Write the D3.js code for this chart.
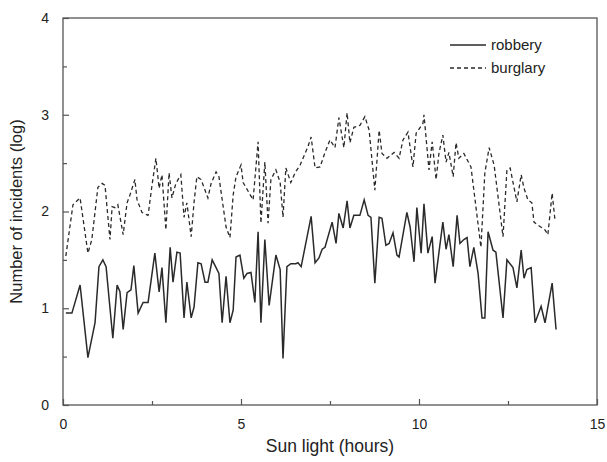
<!DOCTYPE html>
<html><head><meta charset="utf-8">
<script src="https://cdn.jsdelivr.net/npm/d3@7"></script>
<style>body{margin:0;background:#fff;} text{font-family:"Liberation Sans",Arial,sans-serif;fill:#222;}</style>
</head><body><svg id="c" width="607" height="462"></svg>
<script>
const robberyX = [0.08,0.25,0.48,0.70,0.90,1.01,1.12,1.21,1.40,1.52,1.60,1.69,1.80,1.91,1.99,2.11,2.25,2.39,2.58,2.70,2.78,2.89,3.01,3.09,3.20,3.29,3.40,3.48,3.60,3.68,3.79,3.88,3.99,4.07,4.19,4.30,4.38,4.47,4.58,4.69,4.78,4.86,4.97,5.08,5.17,5.28,5.39,5.48,5.56,5.67,5.79,5.98,6.10,6.18,6.29,6.40,6.54,6.60,6.69,6.97,7.08,7.19,7.28,7.36,7.56,7.67,7.75,7.87,7.98,8.06,8.17,8.34,8.46,8.57,8.65,8.76,8.88,8.96,9.07,9.16,9.27,9.38,9.44,9.66,9.75,9.86,9.94,10.06,10.14,10.25,10.37,10.45,10.67,10.76,10.84,10.96,11.07,11.15,11.26,11.35,11.43,11.54,11.66,11.77,11.85,11.94,12.08,12.16,12.36,12.47,12.64,12.75,12.87,12.95,13.03,13.15,13.26,13.43,13.54,13.74,13.85];
const robberyY = [0.95,0.95,1.24,0.49,0.85,1.43,1.50,1.43,0.69,1.24,1.17,0.78,1.16,1.19,1.44,0.95,1.06,1.06,1.57,1.17,1.42,0.85,1.63,1.27,1.58,1.57,0.90,1.27,0.90,1.01,1.47,1.46,1.27,1.27,1.50,1.42,1.36,0.85,1.33,0.85,0.98,1.53,1.55,1.31,1.36,1.37,1.06,1.79,0.85,1.71,1.03,1.55,1.40,0.48,1.43,1.46,1.46,1.47,1.43,1.95,1.47,1.52,1.61,1.63,1.89,1.67,1.98,1.83,2.11,1.83,1.96,1.96,2.12,1.96,1.94,1.26,1.94,1.93,1.65,1.67,1.78,1.55,1.53,1.99,1.84,1.48,2.04,1.57,2.08,1.57,1.74,1.26,1.89,1.61,1.76,1.43,1.96,1.67,1.71,1.73,1.43,1.63,1.36,0.90,0.90,1.79,1.60,1.58,0.90,1.50,1.42,1.21,1.60,1.31,1.40,1.42,0.85,1.02,0.85,1.26,0.78];
const burglaryX = [0.08,0.28,0.48,0.70,0.81,0.98,1.10,1.18,1.32,1.38,1.46,1.54,1.69,1.80,1.88,2.02,2.08,2.22,2.39,2.50,2.61,2.70,2.78,2.89,2.98,3.06,3.17,3.31,3.40,3.48,3.60,3.68,3.76,3.88,4.07,4.16,4.30,4.38,4.58,4.69,4.78,4.86,5.00,5.06,5.34,5.48,5.56,5.67,5.76,5.84,5.98,6.10,6.18,6.26,6.40,6.52,6.66,6.88,6.97,7.08,7.22,7.36,7.50,7.64,7.75,7.89,7.98,8.06,8.17,8.34,8.48,8.60,8.76,8.88,8.96,9.10,9.30,9.44,9.55,9.69,9.83,9.92,10.11,10.14,10.28,10.37,10.48,10.56,10.67,10.76,10.84,10.96,11.04,11.12,11.26,11.46,11.74,11.85,11.97,12.11,12.36,12.47,12.56,12.75,12.87,12.95,13.06,13.17,13.23,13.34,13.54,13.62,13.74,13.82];
const burglaryY = [1.54,2.07,2.14,1.57,1.71,2.25,2.29,2.27,1.71,2.05,2.04,2.07,1.76,2.09,2.17,2.33,2.12,1.99,1.96,2.27,2.55,2.24,2.38,1.81,2.40,2.14,2.29,2.38,1.94,2.09,1.74,2.09,2.36,2.33,2.14,2.29,2.41,2.36,1.84,1.73,2.17,2.36,2.48,2.30,2.12,2.72,1.88,2.51,1.88,2.33,2.43,2.30,1.94,2.45,2.30,2.40,2.48,2.67,2.77,2.45,2.46,2.61,2.74,2.66,2.97,2.66,3.02,2.71,2.87,2.89,2.98,2.84,2.22,2.84,2.60,2.55,2.61,2.55,2.74,2.82,2.46,2.81,2.91,3.00,2.43,2.72,2.33,2.60,2.79,2.51,2.61,2.36,2.71,2.55,2.60,2.46,1.63,2.40,2.66,2.48,1.74,2.43,2.45,2.10,2.38,2.24,2.12,2.09,1.89,1.86,1.81,1.76,2.19,1.91];
const xTicks = [0,5,10,15];
const yTicks = [0,1,2,3,4];
const seriesNames = ["robbery","burglary"];

const svg = d3.select("#c");
const L=63, R=597, T=18, B=405;
const x = d3.scaleLinear().domain([0,15]).range([L,R]);
const y = d3.scaleLinear().domain([0,4]).range([B,T]);
const ink = "#2a2a2a", frame="#555";

svg.append("rect").attr("x",L).attr("y",T).attr("width",R-L).attr("height",B-T)
  .attr("fill","none").attr("stroke",frame).attr("stroke-width",1.3);

const gx = svg.append("g").attr("transform",`translate(0,${B})`)
  .call(d3.axisBottom(x).tickValues(d3.range(0,15.01,2.5)).tickSize(-6).tickPadding(14)
    .tickFormat(d=> xTicks.includes(d)? d3.format("d")(d):""));
gx.select(".domain").remove();
gx.selectAll(".tick line").attr("stroke",frame).attr("stroke-width",1.2)
  .attr("y2",d=> xTicks.includes(d)? -6:-4);
gx.selectAll(".tick text").attr("font-size",14).style("fill","#222");

const gy = svg.append("g").attr("transform",`translate(${L},0)`)
  .call(d3.axisLeft(y).tickValues(d3.range(0,4.01,0.5)).tickSize(-6).tickPadding(14)
    .tickFormat(d=> yTicks.includes(d)? d3.format("d")(d):""));
gy.select(".domain").remove();
gy.selectAll(".tick line").attr("stroke",frame).attr("stroke-width",1.2)
  .attr("x2",d=> yTicks.includes(d)? 6:4);
gy.selectAll(".tick text").attr("font-size",14).style("fill","#222");

const line = d3.line().x(d=>x(d[0])).y(d=>y(d[1]));
const rob = robberyX.map((v,i)=>[v,robberyY[i]]);
const bur = burglaryX.map((v,i)=>[v,burglaryY[i]]);
svg.append("path").datum(bur).attr("d",line).attr("fill","none").attr("stroke",ink)
  .attr("stroke-width",1.3).attr("stroke-dasharray","4,3");
svg.append("path").datum(rob).attr("d",line).attr("fill","none").attr("stroke",ink)
  .attr("stroke-width",1.5);

const lg = svg.append("g");
[[seriesNames[0],null,45],[seriesNames[1],"4,3",68]].forEach(([name,dash,ly])=>{
  lg.append("line").attr("x1",450).attr("x2",486).attr("y1",ly).attr("y2",ly)
    .attr("stroke",ink).attr("stroke-width",1.3).attr("stroke-dasharray",dash);
  lg.append("text").attr("x",491).attr("y",ly+5).attr("font-size",15).text(name);
});

svg.append("text").attr("x",(L+R)/2).attr("y",452).attr("text-anchor","middle")
  .attr("font-size",17.5).text("Sun light (hours)");
svg.append("text").attr("transform",`translate(22,${(T+B)/2}) rotate(-90)`)
  .attr("text-anchor","middle").attr("font-size",16.5).text("Number of incidents (log)");
</script></body></html>
